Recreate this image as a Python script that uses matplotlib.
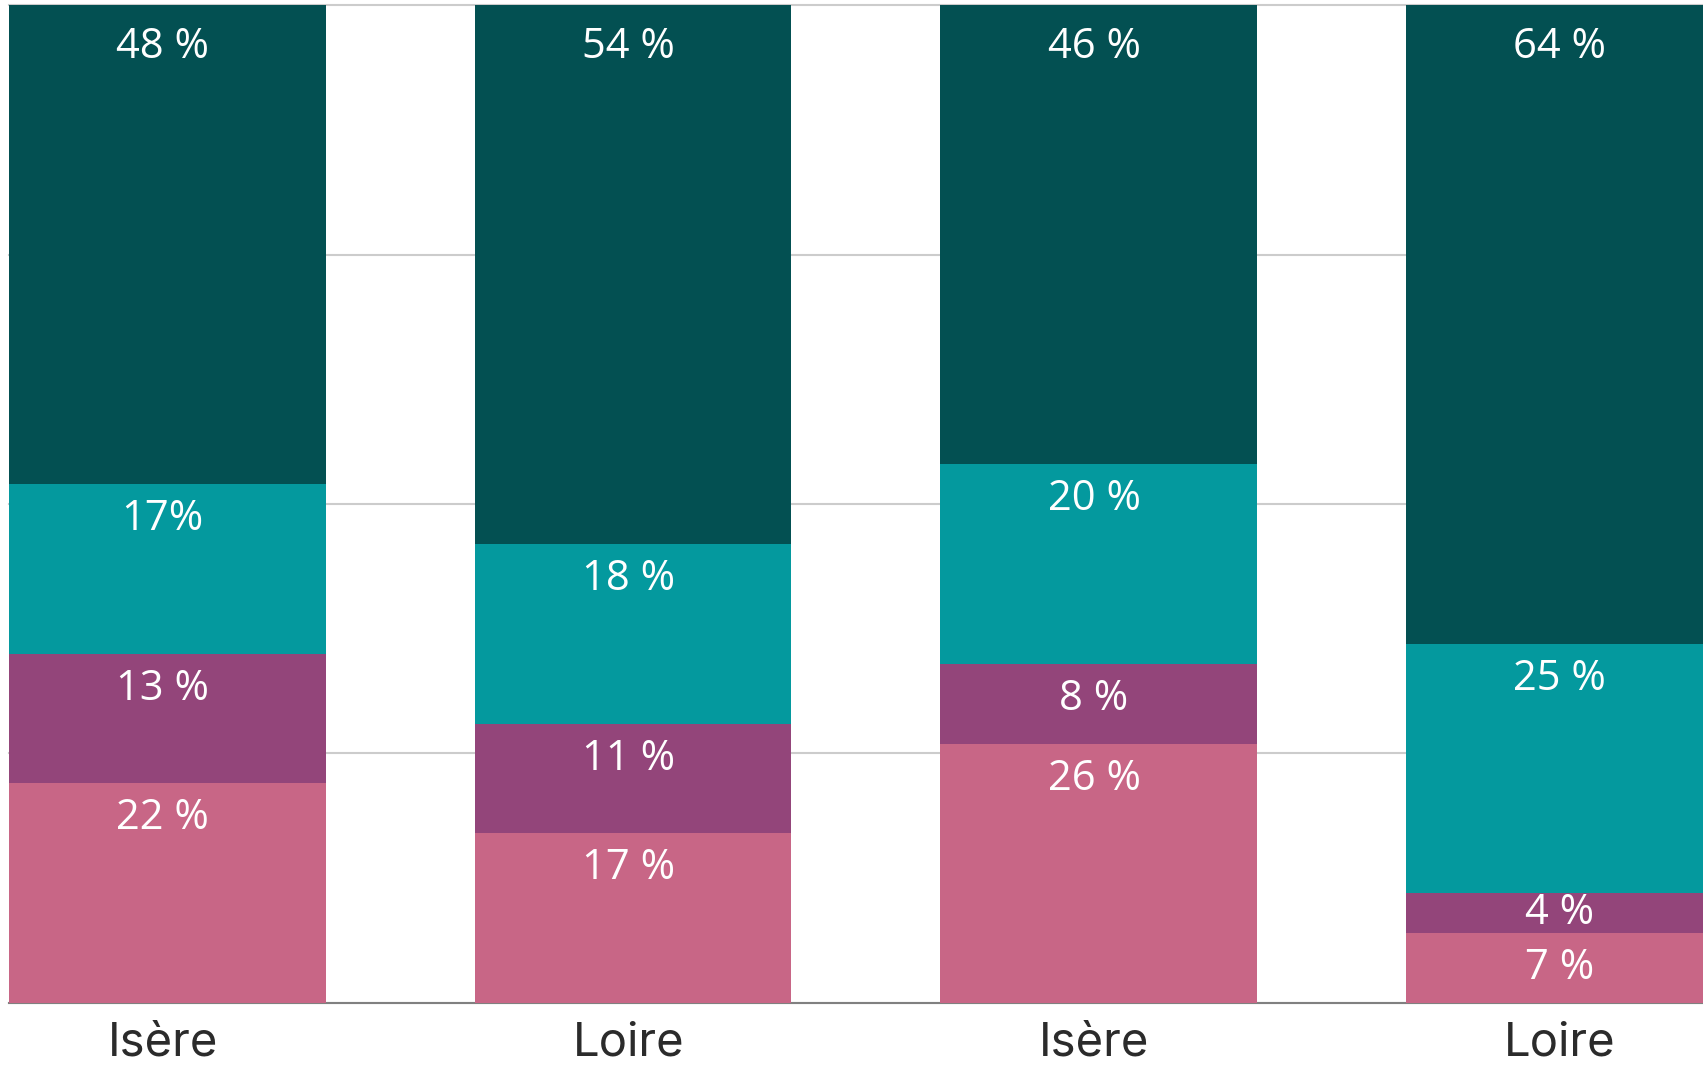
import numpy as np
import matplotlib.pyplot as plt

# --- data ---
categories = ["Isère", "Loire", "Isère", "Loire"]

pink   = [22, 17, 26, 7]
purple = [13, 11, 8, 4]
teal   = [17, 18, 20, 25]
dark   = [48, 54, 46, 64]

pink_lbl   = ["22 %", "17 %", "26 %", "7 %"]
purple_lbl = ["13 %", "11 %", "8 %", "4 %"]
teal_lbl   = ["17%", "18 %", "20 %", "25 %"]
dark_lbl   = ["48 %", "54 %", "46 %", "64 %"]

# (values, labels, colour, label offset below segment top in px)
series = [
    (pink,   pink_lbl,   "#C86686", 35),
    (purple, purple_lbl, "#93457A", 35),
    (teal,   teal_lbl,   "#04999E", 35),
    (dark,   dark_lbl,   "#035052", 42),
]

# --- figure ---
fig = plt.figure(figsize=(17.03, 10.67), dpi=100)
ax = fig.add_axes([9 / 1703, 0.060, 1 - 9 / 1703, 0.9353])

x = np.arange(len(categories))
width = 0.68
bottom = np.zeros(len(categories))

px_per_unit = 0.9353 * 1067 / 100.0

for vals, lbls, col, off_px in series:
    vals = np.array(vals, dtype=float)
    ax.bar(x, vals, width, bottom=bottom, color=col, zorder=3, linewidth=0)
    off = off_px / px_per_unit
    for xi, b, v, t in zip(x, bottom, vals, lbls):
        y = b + v - min(off, v / 2)
        ax.text(xi - 0.01, y, t, ha="center", va="center", color="white",
                fontsize=30, family="Open Sans", zorder=5)
    bottom += vals

ax.set_xlim(-0.34, 3.2975)
ax.set_ylim(0, 100)

ax.set_yticks([0, 25, 50, 75, 100])
ax.yaxis.grid(True, color="#cccccc", linewidth=1.5, zorder=0)
for gl in ax.get_ygridlines():
    gl.set_clip_on(False)
ax.tick_params(axis="y", left=False, labelleft=False)

ax.set_xticks(x - 0.01)
ax.set_xticklabels(categories, fontsize=34, family="Inter", color="#2b2b2b")
ax.tick_params(axis="x", bottom=False, pad=10)

for s in ["top", "left", "right"]:
    ax.spines[s].set_visible(False)
ax.spines["bottom"].set_color("#808080")
ax.spines["bottom"].set_linewidth(1.5)
ax.spines["bottom"].set_zorder(2)

fig.savefig("out.png", dpi=100)
